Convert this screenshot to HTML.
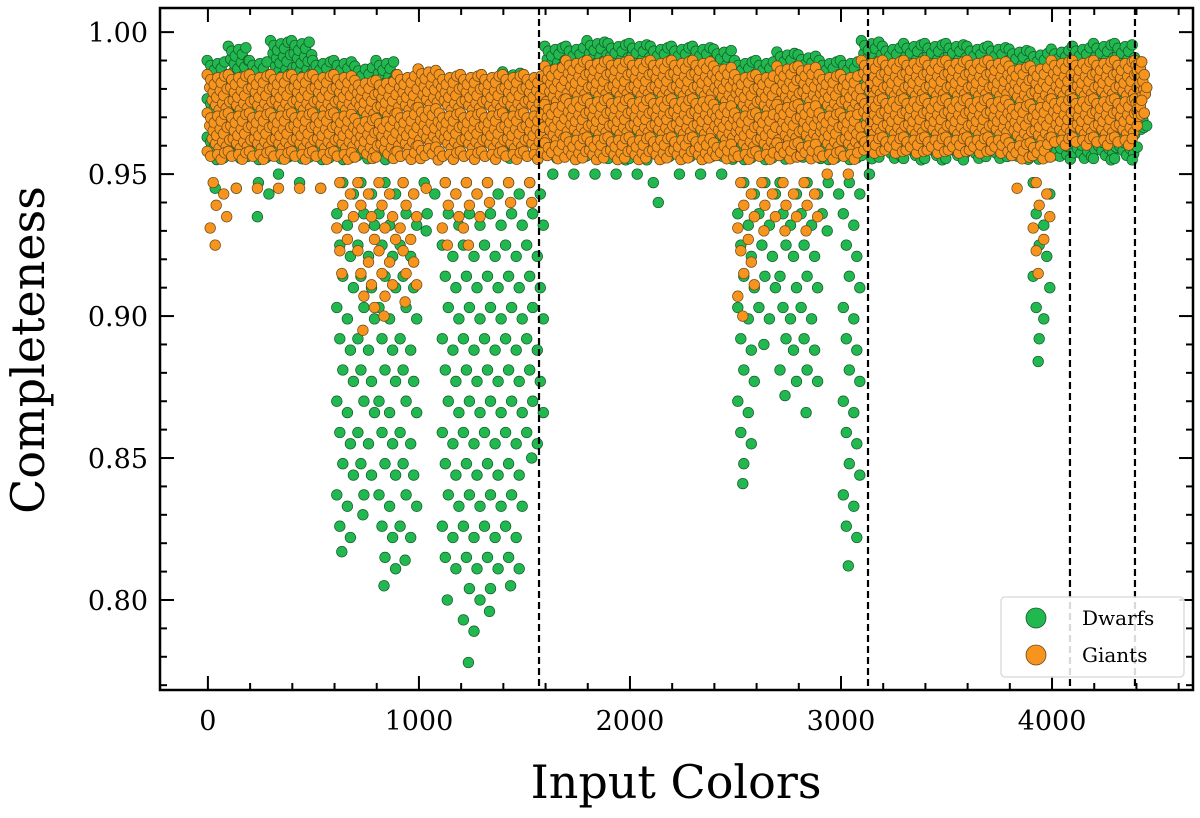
<!DOCTYPE html>
<html><head><meta charset="utf-8"><style>
body{margin:0;background:#fff;}
svg text{font-family:"DejaVu Serif","Liberation Serif",serif;fill:#000;}
</style></head><body>
<svg id="chart" width="1200" height="813" viewBox="0 0 1200 813" xmlns="http://www.w3.org/2000/svg">
<g id="dwarfs"></g>
<g id="giants"></g>
<g id="axes"></g>
</svg>
<script>
// 100-wide bins of input colors, starting at 0
const binStarts = [0,100,200,300,400,500,600,700,800,900,1000,1100,1200,1300,1400,1500,1600,1700,1800,1900,2000,2100,2200,2300,2400,2500,2600,2700,2800,2900,3000,3100,3200,3300,3400,3500,3600,3700,3800,3900,4000,4100,4200,4300,4400];
const dwarfTop = [0.99,0.995,0.99,0.997,0.997,0.99,0.99,0.988,0.99,0.985,0.987,0.985,0.985,0.985,0.986,0.985,0.995,0.995,0.997,0.996,0.996,0.995,0.995,0.995,0.994,0.99,0.99,0.993,0.992,0.99,0.99,0.997,0.995,0.996,0.996,0.996,0.995,0.995,0.994,0.993,0.994,0.995,0.996,0.996,0.99];
const dwarfMin = [0.945,0.945,0.935,0.95,0.947,0.945,0.817,0.83,0.805,0.814,0.93,0.80,0.778,0.796,0.805,0.85,0.95,0.95,0.95,0.95,0.95,0.94,0.95,0.95,0.95,0.841,0.89,0.872,0.866,0.93,0.812,0.95,0.955,0.955,0.955,0.955,0.955,0.955,0.955,0.884,0.955,0.955,0.955,0.955,0.965];
const giantTop = [0.985,0.985,0.985,0.985,0.985,0.985,0.985,0.983,0.983,0.985,0.987,0.985,0.985,0.985,0.985,0.985,0.988,0.99,0.99,0.99,0.99,0.99,0.99,0.99,0.988,0.985,0.985,0.988,0.988,0.985,0.985,0.99,0.99,0.99,0.99,0.99,0.99,0.99,0.988,0.988,0.99,0.99,0.99,0.99,0.99];
const giantMin = [0.925,0.945,0.945,0.945,0.945,0.945,0.915,0.895,0.9,0.905,0.945,0.925,0.925,0.94,0.94,0.94,0.955,0.955,0.955,0.955,0.955,0.955,0.955,0.955,0.955,0.9,0.93,0.93,0.93,0.95,0.95,0.957,0.957,0.957,0.957,0.957,0.957,0.957,0.945,0.915,0.96,0.96,0.96,0.96,0.97];
const xTicks = [0,1000,2000,3000,4000];
const yTicks = [0.80,0.85,0.90,0.95,1.00];
const dashedX = [1569,3128,4085,4393];

const NS="http://www.w3.org/2000/svg";
const L=160,R=1193,T=8,B=690;
const xMin=-227,xMax=4668,yMin=0.7683,yMax=1.0085;
function sx(v){return L+(v-xMin)/(xMax-xMin)*(R-L);}
function sy(v){return B-(v-yMin)/(yMax-yMin)*(B-T);}
function mk(tag,attrs,parent){const e=document.createElementNS(NS,tag);for(const k in attrs)e.setAttribute(k,attrs[k]);parent.appendChild(e);return e;}

function drawSeries(gid,tops,mins,coreLow,fill,stroke,name,tailStep){
  const g=document.getElementById(gid);
  for(let i=0;i<binStarts.length;i++){
    const width=(i===binStarts.length-1)?40:100;
    const cols=6;
    for(let c=0;c<cols;c++){
      const xv=binStarts[i]+(c+0.5)*width/cols;
      const core=Math.max(mins[i],coreLow);
      let k=0;
      for(let y=tops[i]-((c*0.0017)%0.004); y>=core; y-=0.0045){
        const cx=sx(xv)+((k%3)-1)*2.5;
        const el=mk('circle',{cx:cx.toFixed(1),cy:sy(y).toFixed(1),r:5.3,fill:fill,stroke:stroke,'stroke-width':0.7},g);
        
        
        k++;
      }
      if(mins[i]<core && (c===1||c===4)){
        for(let y=core-0.008-(c===4?0.004:0); y>mins[i]+0.004; y-=tailStep){
          const cx=sx(xv)+((k%3)-1)*3;
          const el=mk('circle',{cx:cx.toFixed(1),cy:sy(y).toFixed(1),r:5.3,fill:fill,stroke:stroke,'stroke-width':0.7},g);
          
          
          k++;
        }
        if(c===1){
          const el=mk('circle',{cx:(sx(xv)+2).toFixed(1),cy:sy(mins[i]).toFixed(1),r:5.3,fill:fill,stroke:stroke,'stroke-width':0.7},g);
          
          
        }
      }
    }
  }
}
drawSeries('dwarfs',dwarfTop,dwarfMin,0.955,'#22b850','#135a2a','dwarf-point',0.011);
drawSeries('giants',giantTop,giantMin,0.955,'#f7941d','#6b4a1a','giant-point',0.008);

const ax=document.getElementById('axes');
dashedX.forEach(v=>{
  const l=mk('line',{x1:sx(v),x2:sx(v),y1:T,y2:B,stroke:'#000','stroke-width':2.2,'stroke-dasharray':'7,4'},ax);
  
  
});
const frame=mk('rect',{x:L,y:T,width:R-L,height:B-T,fill:'none',stroke:'#000','stroke-width':2.5},ax);


for(let v=0;v<=4600;v+=200){
  const major=v%1000===0, len=major?14:7;
  mk('line',{x1:sx(v),x2:sx(v),y1:B,y2:B-len,stroke:'#000','stroke-width':2},ax);
  mk('line',{x1:sx(v),x2:sx(v),y1:T,y2:T+len,stroke:'#000','stroke-width':2},ax);
}
for(let i=77;i<=100;i++){
  const v=i/100, major=i%5===0, len=major?14:7;
  mk('line',{x1:L,x2:L+len,y1:sy(v),y2:sy(v),stroke:'#000','stroke-width':2},ax);
  mk('line',{x1:R,x2:R-len,y1:sy(v),y2:sy(v),stroke:'#000','stroke-width':2},ax);
}
xTicks.forEach(v=>{
  const t=mk('text',{x:sx(v),y:730,'font-size':27,'text-anchor':'middle'},ax);t.textContent=v;
  
  
});
yTicks.forEach(v=>{
  const t=mk('text',{x:148,y:sy(v)+10,'font-size':27,'text-anchor':'end'},ax);t.textContent=v.toFixed(2);
  
  
});
const xt=mk('text',{x:676,y:798,'font-size':46,'text-anchor':'middle'},ax);xt.textContent='Input Colors';


const yt=mk('text',{x:0,y:0,'font-size':46,'text-anchor':'middle',transform:'translate(44,350) rotate(-90)'},ax);yt.textContent='Completeness';



const lg=mk('g',{},ax);


mk('rect',{x:1001,y:597,width:183,height:80,rx:4,fill:'#fff','fill-opacity':0.85,stroke:'#ddd','stroke-width':1.5},lg);
[['Dwarfs','#22b850','#135a2a',618],['Giants','#f7941d','#6b4a1a',655]].forEach(d=>{
  const e=mk('g',{},lg);
  
  
  mk('circle',{cx:1036,cy:d[3],r:10,fill:d[1],stroke:d[2],'stroke-width':0.8},e);
  const t=mk('text',{x:1082,y:d[3]+7,'font-size':20},e);t.textContent=d[0];
});
</script>
</body></html>
